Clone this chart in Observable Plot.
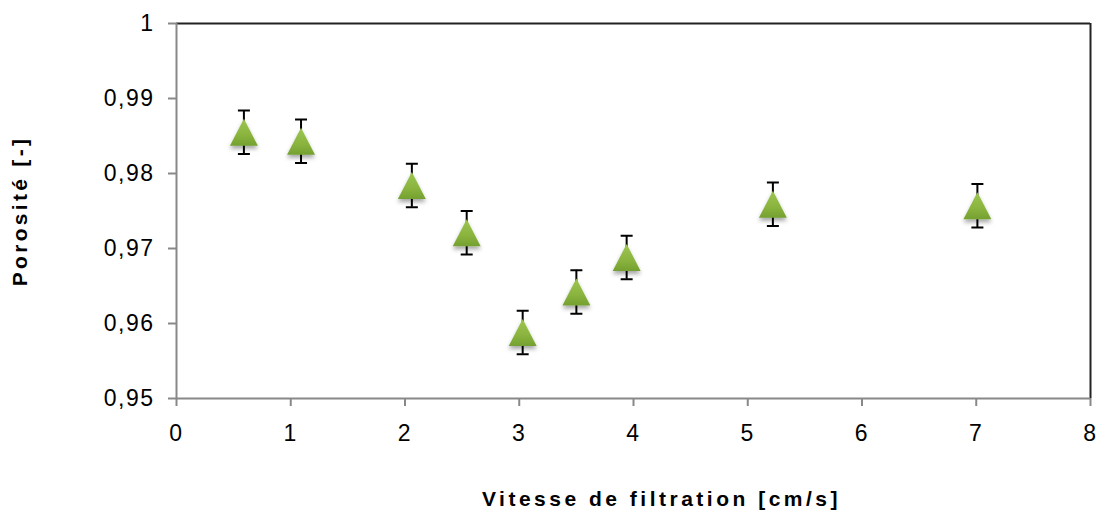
<!DOCTYPE html>
<html>
<head>
<meta charset="utf-8">
<script src="https://cdn.jsdelivr.net/npm/d3@7"></script>
<script src="https://cdn.jsdelivr.net/npm/@observablehq/plot@0.6"></script>
<style>
  html, body { margin: 0; padding: 0; background: #fff; }
  svg { display: block; }
</style>
</head>
<body>
<div id="chart"></div>
<script>
// Data
const vitesse  = [0.59, 1.09, 2.06, 2.54, 3.03, 3.50, 3.94, 5.22, 7.01];
const porosite = [0.9855, 0.9843, 0.9784, 0.9721, 0.9588, 0.9642, 0.9688, 0.9759, 0.9757];
const erreur   = [0.0029, 0.0029, 0.0029, 0.0029, 0.0029, 0.0029, 0.0029, 0.0029, 0.0029];

const xTicks = [0, 1, 2, 3, 4, 5, 6, 7, 8];
const yTicks = [0.95, 0.96, 0.97, 0.98, 0.99, 1];
const xTitle = "Vitesse de filtration [cm/s]";
const yTitle = "Porosité [-]";

const rows = vitesse.map((v, i) => ({
  x: v, y: porosite[i], lo: porosite[i] - erreur[i], hi: porosite[i] + erreur[i]
}));

const fmt = d => String(d).replace(".", ",");

// Excel-style triangle marker, centred on its bounding box
const triangle = {
  draw(ctx, size) {
    const r = Math.sqrt(size / Math.PI);
    const hw = 1.33 * r, hh = 1.29 * r;
    ctx.moveTo(0, -hh);
    ctx.lineTo(hw, hh);
    ctx.lineTo(-hw, hh);
    ctx.closePath();
  }
};
// Horizontal error bar cap
const cap = {
  draw(ctx, size) {
    const r = Math.sqrt(size / Math.PI);
    ctx.moveTo(-r, 0);
    ctx.lineTo(r, 0);
  }
};

const font = "'Liberation Sans', Arial, Helvetica, sans-serif";

const chart = Plot.plot({
  width: 1106,
  height: 513,
  marginLeft: 176,
  marginRight: 16,
  marginTop: 23,
  marginBottom: 115,
  style: { fontFamily: font, fontSize: "23px", color: "#000", background: "#fff" },
  x: { domain: [0, 8] },
  y: { domain: [0.95, 1] },
  marks: [
    // plot frame: grey axes left/bottom, black border top/right
    Plot.ruleY([1], { stroke: "#222", strokeWidth: 2 }),
    Plot.ruleX([8], { stroke: "#222", strokeWidth: 2 }),
    Plot.ruleX([0], { stroke: "#888", strokeWidth: 2 }),
    Plot.ruleY([0.95], { stroke: "#888", strokeWidth: 2 }),
    Plot.axisX({
      ticks: xTicks, tickFormat: fmt, tickSize: 8, tickPadding: 18,
      stroke: "#888", strokeWidth: 2,
      label: xTitle, labelAnchor: "center", labelOffset: 107, labelArrow: "none"
    }),
    Plot.axisY({
      ticks: yTicks, tickFormat: fmt, tickSize: 8, tickPadding: 14,
      stroke: "#888", strokeWidth: 2,
      label: yTitle, labelAnchor: "center", labelOffset: 164, labelArrow: "none"
    }),
    // error bars
    Plot.ruleX(rows, { x: "x", y1: "lo", y2: "hi", stroke: "#000", strokeWidth: 2 }),
    Plot.dot(rows, { x: "x", y: "lo", symbol: cap, r: 6, stroke: "#000", strokeWidth: 2, fill: "none" }),
    Plot.dot(rows, { x: "x", y: "hi", symbol: cap, r: 6, stroke: "#000", strokeWidth: 2, fill: "none" }),
    // markers
    Plot.dot(rows, { x: "x", y: "y", symbol: triangle, r: 10.5, fill: "#8ab43e", stroke: "none", className: "tri" })
  ]
});

document.getElementById("chart").appendChild(chart);

const svg = d3.select(chart);

// Gradient + soft shadow for the markers
const defs = svg.insert("defs", ":first-child");
const grad = defs.append("linearGradient").attr("id", "triGrad")
  .attr("x1", 0).attr("y1", 0).attr("x2", 0).attr("y2", 1);
grad.append("stop").attr("offset", "0%").attr("stop-color", "#9cc652");
grad.append("stop").attr("offset", "60%").attr("stop-color", "#8ab43e");
grad.append("stop").attr("offset", "100%").attr("stop-color", "#74a030");
const filt = defs.append("filter").attr("id", "triShadow")
  .attr("x", "-50%").attr("y", "-50%").attr("width", "200%").attr("height", "200%");
filt.append("feDropShadow").attr("dx", 0).attr("dy", 3).attr("stdDeviation", 2)
  .attr("flood-color", "#000").attr("flood-opacity", 0.35);
svg.selectAll("g.tri path").attr("fill", "url(#triGrad)").attr("filter", "url(#triShadow)");

// tick label spacing (wide comma as in the reference)
svg.selectAll("[aria-label='y-axis tick label'] text, [aria-label='x-axis tick label'] text")
  .style("letter-spacing", "1.5px");

// axis titles: plain text, bold, spaced
svg.select("[aria-label='x-axis label'] text").text(xTitle).attr("dx", 28)
  .style("letter-spacing", "3.5px");
svg.select("[aria-label='y-axis label'] text").text(yTitle)
  .style("letter-spacing", "3.3px");
svg.selectAll("[aria-label='x-axis label'] text, [aria-label='y-axis label'] text")
  .style("font-weight", "bold").style("font-size", "21px");
</script>
</body>
</html>
